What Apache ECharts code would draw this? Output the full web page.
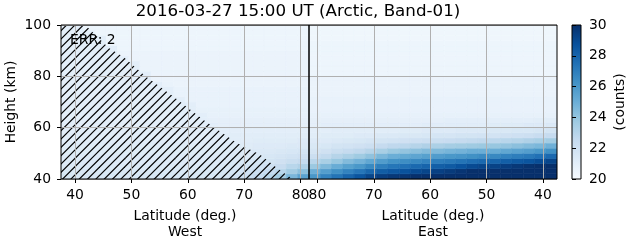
<!DOCTYPE html>
<html><head><meta charset="utf-8">
<script src="https://cdn.jsdelivr.net/npm/echarts@6/dist/echarts.min.js"></script>
<style>html,body{margin:0;padding:0;background:#fff}#c{width:631px;height:243px}</style>
</head><body><div id="c"></div>
<script>
const titleText = '2016-03-27 15:00 UT (Arctic, Band-01)';
const errText = 'ERR: 2';
const xAxisNameWest = 'Latitude (deg.)\nWest';
const xAxisNameEast = 'Latitude (deg.)\nEast';
const yAxisName = 'Height (km)';
const colorbarName = '(counts)';

// cell edges
const heightEdges = [40,42,44,46,48,50,52,54,56,58,60,62,64,66,68,70,72,74,76,78,80,82,84,86,88,90,92,94,96,98,100];
const westLatEdges = [37.5,39.5,41.5,43.5,45.5,47.5,49.5,51.5,53.5,55.5,57.5,59.5,61.5,63.5,65.5,67.5,69.5,71.5,73.5,75.5,77.5,79.5,81.5];
const eastLatEdges = [81.5,79.5,77.5,75.5,73.5,71.5,69.5,67.5,65.5,63.5,61.5,59.5,57.5,55.5,53.5,51.5,49.5,47.5,45.5,43.5,41.5,39.5,37.5];

// tick labels
const westTicks = [40,50,60,70,80];
const eastTicks = [80,70,60,50,40];
const heightTicks = [40,60,80,100];
const colorbarTicks = [20,22,24,26,28,30];

// counts per column (bottom 40 km -> top 100 km)
const westCounts = [
[21.6,21.5,21.4,21.3,21.3,21.2,21.2,21.1,21.1,21.1,21.0,21.0,21.0,21.0,21.0,21.0,21.0,21.0,21.0,21.0,21.0,21.0,21.0,21.0,21.0,21.0,21.0,21.0,21.0,21.0],
[21.6,21.5,21.4,21.3,21.3,21.2,21.2,21.1,21.1,21.1,21.0,21.0,21.0,21.0,21.0,21.0,21.0,21.0,21.0,21.0,21.0,21.0,21.0,21.0,21.0,21.0,21.0,21.0,21.0,21.0],
[21.6,21.5,21.4,21.3,21.3,21.2,21.2,21.1,21.1,21.1,21.0,21.0,21.0,21.0,21.0,21.0,21.0,21.0,21.0,21.0,21.0,21.0,21.0,21.0,21.0,21.0,21.0,21.0,21.0,20.5],
[21.6,21.5,21.4,21.3,21.3,21.2,21.2,21.1,21.1,21.1,21.0,21.0,21.0,21.0,21.0,21.0,21.0,21.0,21.0,21.0,21.0,21.0,21.0,21.0,21.0,21.0,21.0,21.0,20.5,20.5],
[21.6,21.5,21.4,21.3,21.3,21.2,21.2,21.1,21.1,21.1,21.0,21.0,21.0,21.0,21.0,21.0,21.0,21.0,21.0,21.0,21.0,21.0,21.0,21.0,21.0,21.0,20.5,20.5,20.5,20.5],
[21.6,21.5,21.4,21.3,21.3,21.2,21.2,21.1,21.1,21.1,21.0,21.0,21.0,21.0,21.0,21.0,21.0,21.0,21.0,21.0,21.0,21.0,21.0,21.0,20.6,20.5,20.5,20.5,20.5,20.5],
[21.6,21.5,21.4,21.3,21.3,21.2,21.2,21.1,21.1,21.1,21.0,21.0,21.0,21.0,21.0,21.0,21.0,21.0,21.0,21.0,21.0,21.0,21.0,20.6,20.6,20.5,20.5,20.5,20.5,20.5],
[21.6,21.5,21.4,21.3,21.3,21.2,21.2,21.1,21.1,21.1,21.0,21.0,21.0,21.0,21.0,21.0,21.0,21.0,21.0,21.0,21.0,20.6,20.6,20.6,20.6,20.5,20.5,20.5,20.5,20.5],
[21.6,21.5,21.4,21.3,21.3,21.2,21.2,21.1,21.1,21.1,21.0,21.0,21.0,21.0,21.0,21.0,21.0,21.0,21.0,20.6,20.6,20.6,20.6,20.6,20.6,20.5,20.5,20.5,20.5,20.5],
[21.6,21.5,21.4,21.3,21.3,21.2,21.2,21.1,21.1,21.1,21.0,21.0,21.0,21.0,21.0,21.0,21.0,21.0,20.7,20.6,20.6,20.6,20.6,20.6,20.6,20.5,20.5,20.5,20.5,20.5],
[21.6,21.5,21.4,21.3,21.3,21.2,21.2,21.1,21.1,21.1,21.0,21.0,21.0,21.0,21.0,21.0,20.7,20.7,20.6,20.6,20.6,20.6,20.6,20.6,20.6,20.5,20.5,20.5,20.5,20.5],
[21.6,21.5,21.4,21.3,21.3,21.2,21.2,21.1,21.1,21.1,21.0,21.0,21.0,21.0,21.0,20.7,20.7,20.7,20.6,20.6,20.6,20.6,20.6,20.6,20.6,20.5,20.5,20.5,20.5,20.5],
[21.6,21.5,21.4,21.3,21.3,21.2,21.2,21.1,21.1,21.1,21.0,21.0,21.0,20.8,20.7,20.7,20.7,20.7,20.6,20.6,20.6,20.6,20.6,20.6,20.6,20.5,20.5,20.5,20.5,20.5],
[21.6,21.5,21.4,21.3,21.3,21.2,21.2,21.1,21.1,21.1,21.0,20.9,20.8,20.8,20.7,20.7,20.7,20.7,20.6,20.6,20.6,20.6,20.6,20.6,20.6,20.5,20.5,20.5,20.5,20.5],
[21.7,21.6,21.5,21.4,21.3,21.2,21.2,21.1,21.1,21.0,20.9,20.9,20.8,20.8,20.7,20.7,20.7,20.7,20.6,20.6,20.6,20.6,20.6,20.6,20.6,20.5,20.5,20.5,20.5,20.5],
[22.0,21.8,21.6,21.5,21.4,21.3,21.2,21.1,21.1,21.0,20.9,20.9,20.8,20.8,20.7,20.7,20.7,20.7,20.6,20.6,20.6,20.6,20.6,20.6,20.6,20.5,20.5,20.5,20.5,20.5],
[22.2,22.0,21.8,21.6,21.4,21.3,21.2,21.1,21.1,21.0,20.9,20.9,20.8,20.8,20.7,20.7,20.7,20.7,20.6,20.6,20.6,20.6,20.6,20.6,20.6,20.5,20.5,20.5,20.5,20.5],
[22.5,22.2,21.9,21.7,21.5,21.4,21.3,21.2,21.1,21.0,20.9,20.9,20.8,20.8,20.7,20.7,20.7,20.7,20.6,20.6,20.6,20.6,20.6,20.6,20.6,20.5,20.5,20.5,20.5,20.5],
[22.9,22.5,22.1,21.8,21.6,21.4,21.3,21.2,21.1,21.0,20.9,20.9,20.8,20.8,20.7,20.7,20.7,20.7,20.6,20.6,20.6,20.6,20.6,20.6,20.6,20.5,20.5,20.5,20.5,20.5],
[23.6,22.9,22.4,22.0,21.7,21.5,21.3,21.2,21.1,21.0,20.9,20.9,20.8,20.8,20.7,20.7,20.7,20.7,20.6,20.6,20.6,20.6,20.6,20.6,20.6,20.5,20.5,20.5,20.5,20.5],
[24.6,23.6,22.9,22.3,21.9,21.6,21.4,21.2,21.1,21.0,20.9,20.9,20.8,20.8,20.7,20.7,20.7,20.7,20.6,20.6,20.6,20.6,20.6,20.6,20.6,20.5,20.5,20.5,20.5,20.5],
[25.5,24.2,23.2,22.5,22.0,21.7,21.4,21.3,21.1,21.0,20.9,20.9,20.8,20.8,20.7,20.7,20.7,20.7,20.6,20.6,20.6,20.6,20.6,20.6,20.6,20.5,20.5,20.5,20.5,20.5]
];
const eastCounts = [
[26.0,25.0,23.8,22.9,22.2,21.7,21.5,21.3,21.1,21.0,20.9,20.9,20.8,20.7,20.7,20.7,20.6,20.6,20.6,20.6,20.5,20.5,20.5,20.5,20.5,20.5,20.5,20.4,20.4,20.4],
[26.8,25.7,24.5,23.4,22.6,22.0,21.6,21.3,21.2,21.0,21.0,20.9,20.8,20.7,20.7,20.7,20.6,20.6,20.6,20.6,20.5,20.5,20.5,20.5,20.5,20.5,20.5,20.4,20.4,20.4],
[27.4,26.3,25.1,23.9,23.0,22.3,21.8,21.4,21.2,21.1,21.0,20.9,20.8,20.7,20.7,20.7,20.6,20.6,20.6,20.6,20.5,20.5,20.5,20.5,20.5,20.5,20.5,20.4,20.4,20.4],
[28.0,26.8,25.6,24.4,23.3,22.5,21.9,21.5,21.2,21.1,21.0,20.9,20.8,20.7,20.7,20.7,20.6,20.6,20.6,20.6,20.5,20.5,20.5,20.5,20.5,20.5,20.5,20.4,20.4,20.4],
[28.6,27.3,26.0,24.8,23.7,22.7,22.0,21.6,21.3,21.1,21.0,20.9,20.8,20.7,20.7,20.7,20.6,20.6,20.6,20.6,20.5,20.5,20.5,20.5,20.5,20.5,20.5,20.4,20.4,20.4],
[29.2,27.9,26.6,25.3,24.1,23.0,22.2,21.7,21.3,21.1,21.0,20.9,20.8,20.7,20.7,20.7,20.6,20.6,20.6,20.6,20.5,20.5,20.5,20.5,20.5,20.5,20.5,20.4,20.4,20.4],
[29.5,28.3,27.0,25.8,24.6,23.4,22.5,21.8,21.4,21.1,21.0,20.9,20.8,20.7,20.7,20.7,20.6,20.6,20.6,20.6,20.5,20.5,20.5,20.5,20.5,20.5,20.5,20.4,20.4,20.4],
[29.7,28.5,27.3,26.2,25.0,23.8,22.7,21.9,21.4,21.1,21.0,20.9,20.8,20.7,20.7,20.7,20.6,20.6,20.6,20.6,20.5,20.5,20.5,20.5,20.5,20.5,20.5,20.4,20.4,20.4],
[29.8,28.7,27.5,26.4,25.2,24.0,22.8,22.0,21.5,21.2,21.0,20.9,20.8,20.7,20.7,20.7,20.6,20.6,20.6,20.6,20.5,20.5,20.5,20.5,20.5,20.5,20.5,20.4,20.4,20.4],
[30.0,29.0,27.8,26.6,25.4,24.2,23.0,22.1,21.5,21.2,21.0,20.9,20.8,20.7,20.7,20.7,20.6,20.6,20.6,20.6,20.5,20.5,20.5,20.5,20.5,20.5,20.5,20.4,20.4,20.4],
[30.0,29.2,28.0,26.8,25.6,24.4,23.2,22.2,21.6,21.3,21.1,20.9,20.8,20.7,20.7,20.7,20.6,20.6,20.6,20.6,20.5,20.5,20.5,20.5,20.5,20.5,20.5,20.4,20.4,20.4],
[30.0,29.4,28.2,27.0,25.8,24.5,23.3,22.3,21.7,21.3,21.1,20.9,20.8,20.7,20.7,20.7,20.6,20.6,20.6,20.6,20.5,20.5,20.5,20.5,20.5,20.5,20.5,20.4,20.4,20.4],
[30.0,29.6,28.4,27.2,26.0,24.7,23.5,22.4,21.7,21.3,21.1,21.0,20.8,20.7,20.7,20.7,20.6,20.6,20.6,20.6,20.5,20.5,20.5,20.5,20.5,20.5,20.5,20.4,20.4,20.4],
[30.0,29.8,28.7,27.4,26.1,24.8,23.6,22.5,21.8,21.4,21.1,21.0,20.8,20.7,20.7,20.7,20.6,20.6,20.6,20.6,20.5,20.5,20.5,20.5,20.5,20.5,20.5,20.4,20.4,20.4],
[30.0,30.0,29.0,27.6,26.3,25.0,23.7,22.6,21.8,21.4,21.1,21.0,20.8,20.7,20.7,20.7,20.6,20.6,20.6,20.6,20.5,20.5,20.5,20.5,20.5,20.5,20.5,20.4,20.4,20.4],
[30.0,30.0,29.2,27.8,26.5,25.0,23.8,22.7,21.9,21.4,21.1,21.0,20.8,20.7,20.7,20.7,20.6,20.6,20.6,20.6,20.5,20.5,20.5,20.5,20.5,20.5,20.5,20.4,20.4,20.4],
[30.0,30.0,29.3,28.0,26.6,25.1,23.9,22.8,21.9,21.5,21.2,21.0,20.8,20.7,20.7,20.7,20.6,20.6,20.6,20.6,20.5,20.5,20.5,20.5,20.5,20.5,20.5,20.4,20.4,20.4],
[30.0,30.0,29.5,28.2,26.8,25.3,24.0,22.9,22.0,21.5,21.2,21.0,20.8,20.7,20.7,20.7,20.6,20.6,20.6,20.6,20.5,20.5,20.5,20.5,20.5,20.5,20.5,20.4,20.4,20.4],
[30.0,30.0,29.7,28.4,27.0,25.5,24.2,23.0,22.1,21.6,21.2,21.0,20.8,20.7,20.7,20.7,20.6,20.6,20.6,20.6,20.5,20.5,20.5,20.5,20.5,20.5,20.5,20.4,20.4,20.4],
[30.0,30.0,29.9,28.6,27.2,25.7,24.4,23.2,22.2,21.6,21.3,21.0,20.8,20.7,20.7,20.7,20.6,20.6,20.6,20.6,20.5,20.5,20.5,20.5,20.5,20.5,20.5,20.4,20.4,20.4],
[30.0,30.0,30.0,28.9,27.5,26.0,24.6,23.4,22.4,21.7,21.3,21.1,20.8,20.7,20.7,20.7,20.6,20.6,20.6,20.6,20.5,20.5,20.5,20.5,20.5,20.5,20.5,20.4,20.4,20.4],
[30.0,30.0,30.0,29.2,27.8,26.3,24.9,23.6,22.5,21.8,21.4,21.1,20.8,20.7,20.7,20.7,20.6,20.6,20.6,20.6,20.5,20.5,20.5,20.5,20.5,20.5,20.5,20.4,20.4,20.4]
];

// hatched (masked) region outline, west side
const hatchLat = [37.5, 37.5, 41.8, 46.0, 48.6, 52.5, 57.5, 62.8, 68.7, 72.8, 76.0, 78.6];
const hatchHeight = [40, 100, 100, 91, 87.5, 80, 72, 63, 54, 49.5, 44, 40];

const colorRange = [20, 30];
const bluesColors = ['#f7fbff','#deebf7','#c6dbef','#9ecae1','#6baed6','#4292c6','#2171b5','#08519c','#08306b'];

const FONT = 'DejaVu Sans';
const FS = 13.9;

function cells(latEdges, counts) {
  const out = [];
  for (let j = 0; j < counts.length; j++) {
    for (let r = 0; r < counts[j].length; r++) {
      out.push([latEdges[j], latEdges[j + 1], heightEdges[r], heightEdges[r + 1], counts[j][r]]);
    }
  }
  return out;
}

function renderCell(params, api) {
  const p0 = api.coord([api.value(0), api.value(2)]);
  const p1 = api.coord([api.value(1), api.value(3)]);
  const c = api.visual('color');
  return {
    type: 'rect',
    shape: { x: Math.min(p0[0], p1[0]), y: Math.min(p0[1], p1[1]), width: Math.abs(p1[0] - p0[0]), height: Math.abs(p1[1] - p0[1]) },
    style: { fill: c, stroke: c, lineWidth: 0.6 }
  };
}

// hatch pattern tile
const hatchTile = (function () {
  const s = 25, step = s / 3;
  const cv = document.createElement('canvas');
  cv.width = s; cv.height = s;
  const g = cv.getContext('2d');
  g.strokeStyle = '#000';
  g.lineWidth = 1.2;
  for (let k = -3; k <= 3; k++) {
    const off = k * step;
    g.beginPath(); g.moveTo(off - 1, s + 1); g.lineTo(off + s + 1, -1); g.stroke();
  }
  return cv;
})();

const chart = echarts.init(document.getElementById('c'), null, { renderer: 'canvas' });

const axisText = { color: '#000', fontFamily: FONT, fontSize: FS };
const gridLine = { show: true, lineStyle: { color: '#b0b0b0', width: 1 } };

function latAxis(gridIndex, ticks, inverse, name) {
  return {
    type: 'value', gridIndex, min: 37.5, max: 81.5, inverse, z: 5,
    name, nameLocation: 'middle', nameGap: 29,
    nameTextStyle: { color: '#000', fontFamily: FONT, fontSize: FS, lineHeight: 16.5 },
    axisLine: { show: false },
    axisTick: { show: true, customValues: ticks, length: 4, lineStyle: { color: '#000' } },
    axisLabel: Object.assign({ customValues: ticks, margin: 9 }, axisText),
    splitLine: gridLine
  };
}

function heightAxis(gridIndex, showLabels) {
  return {
    type: 'value', gridIndex, min: heightTicks[0], max: heightTicks[heightTicks.length - 1], interval: 20, z: 5,
    name: showLabels ? yAxisName : '', nameLocation: 'middle', nameGap: 43,
    nameTextStyle: { color: '#000', fontFamily: FONT, fontSize: FS },
    axisLine: { show: false },
    axisTick: { show: showLabels, length: 4, lineStyle: { color: '#000' } },
    axisLabel: Object.assign({ show: showLabels, margin: 10 }, axisText),
    splitLine: gridLine
  };
}

const gridBase = { top: 25, height: 154, show: true, borderColor: '#000', borderWidth: 1, backgroundColor: 'transparent', z: 10, containLabel: false, outerBoundsMode: 'none' };

chart.setOption({
  animation: false,
  backgroundColor: '#fff',
  graphic: [
    { type: 'text', x: 298, y: 11.5, z: 100,
      style: { text: titleText, fill: '#000', font: '16.7px "DejaVu Sans"', textAlign: 'center', textVerticalAlign: 'middle' } },
    { type: 'text', x: 70, y: 40, z: 100,
      style: { text: errText, fill: '#000', font: FS + 'px "DejaVu Sans"', textAlign: 'left', textVerticalAlign: 'middle' } }
  ],
  visualMap: {
    type: 'continuous', show: false, min: colorRange[0], max: colorRange[1], dimension: 4, seriesIndex: [0, 1],
    inRange: { color: bluesColors }
  },
  grid: [
    Object.assign({ left: 61, width: 248 }, gridBase),
    Object.assign({ left: 309, width: 248 }, gridBase),
    Object.assign({ left: 572, width: 9 }, gridBase)
  ],
  xAxis: [
    latAxis(0, westTicks, false, xAxisNameWest),
    latAxis(1, eastTicks, true, xAxisNameEast),
    { type: 'value', gridIndex: 2, min: 0, max: 1, show: false }
  ],
  yAxis: [
    heightAxis(0, true),
    heightAxis(1, false),
    { type: 'value', gridIndex: 2, min: colorbarTicks[0], max: colorbarTicks[colorbarTicks.length - 1], interval: 2, position: 'right', z: 5,
      name: colorbarName, nameLocation: 'middle', nameGap: 32,
      nameTextStyle: { color: '#000', fontFamily: FONT, fontSize: FS },
      axisLine: { show: false },
      axisTick: { show: true, length: 4, lineStyle: { color: '#000' } },
      axisLabel: Object.assign({ margin: 8 }, axisText),
      splitLine: { show: false } }
  ],
  series: [
    { type: 'custom', xAxisIndex: 0, yAxisIndex: 0, clip: true, z: 2,
      data: cells(westLatEdges, westCounts), encode: { x: [0, 1], y: [2, 3] }, renderItem: renderCell },
    { type: 'custom', xAxisIndex: 1, yAxisIndex: 1, clip: true, z: 2,
      data: cells(eastLatEdges, eastCounts), encode: { x: [0, 1], y: [2, 3] }, renderItem: renderCell },
    { type: 'custom', xAxisIndex: 0, yAxisIndex: 0, clip: true, z: 3,
      data: hatchLat.map((v, i) => [v, hatchHeight[i]]),
      encode: { x: 0, y: 1 },
      renderItem: function (params, api) {
        if (params.dataIndex !== 0) return null;
        const pts = hatchLat.map((v, i) => api.coord([v, hatchHeight[i]]));
        return { type: 'polygon', shape: { points: pts }, style: { fill: { image: hatchTile, repeat: 'repeat' }, stroke: null } };
      } },
    { type: 'custom', xAxisIndex: 2, yAxisIndex: 2, z: 2,
      data: [[0, 1, colorRange[0], colorRange[1]]], encode: { x: [0, 1], y: [2, 3] },
      renderItem: function (params, api) {
        const p0 = api.coord([api.value(0), api.value(2)]);
        const p1 = api.coord([api.value(1), api.value(3)]);
        const stops = bluesColors.map((c, i) => ({ offset: i / (bluesColors.length - 1), color: c }));
        return { type: 'rect',
          shape: { x: p0[0], y: p1[1], width: p1[0] - p0[0], height: p0[1] - p1[1] },
          style: { fill: new echarts.graphic.LinearGradient(0, 1, 0, 0, stops) } };
      } }
  ]
});
</script>
</body></html>
